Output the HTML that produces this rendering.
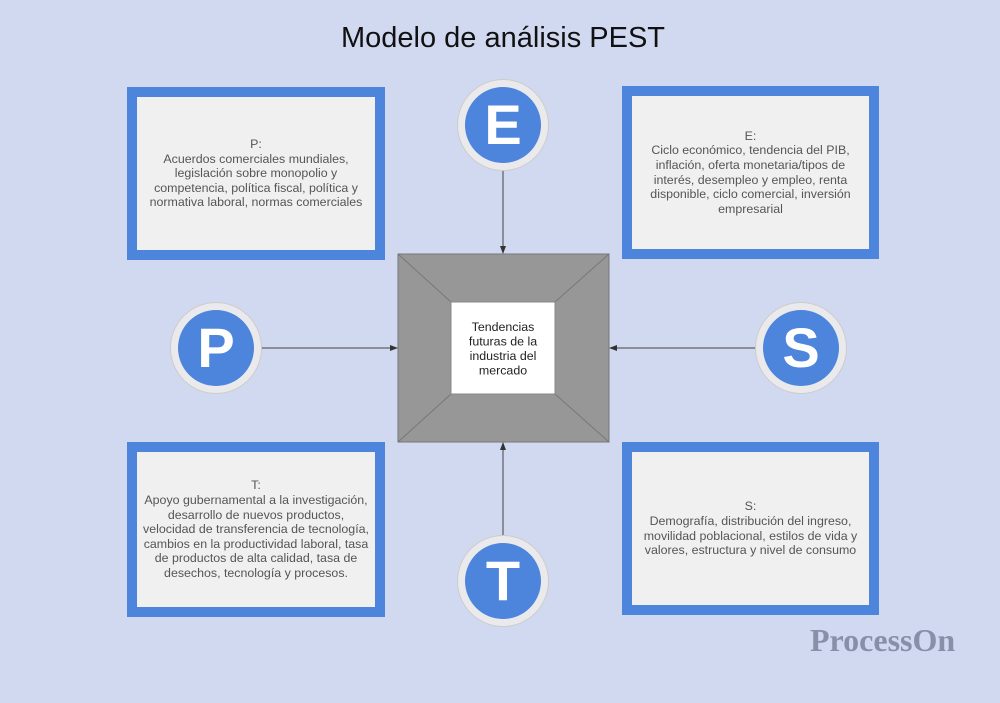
<!DOCTYPE html>
<html><head><meta charset="utf-8"><style>
body{margin:0;width:1000px;height:703px;background:#d1d9f1;position:relative;overflow:hidden;font-family:"Liberation Sans",sans-serif}
.title{position:absolute;left:0;width:1006px;top:22px;text-align:center;font-size:29px;color:#111}
.box{position:absolute;box-sizing:border-box;background:#f0f0f0;border:10px solid #4d84dc;display:flex;align-items:center;justify-content:center;text-align:center;font-size:12.4px;line-height:14.6px;color:#555;padding:0 4px}
.circ{position:absolute;width:90px;height:90px;border-radius:50%;background:#eaeaec;box-shadow:0 0 0 1px #ccc}
.circ div{position:absolute;left:7px;top:7px;width:76px;height:76px;border-radius:50%;background:#4d84dc;color:#fff;font-weight:bold;font-size:56px;line-height:76px;text-align:center}
.wm{position:absolute;left:810px;top:622px;font-family:"Liberation Serif",serif;font-weight:bold;font-size:32px;color:#8790a8}
</style></head><body>
<div class="title">Modelo de análisis PEST</div>
<svg width="1000" height="703" style="position:absolute;left:0;top:0">
<defs><marker id="a" markerWidth="8" markerHeight="8" refX="7" refY="4" orient="auto" markerUnits="userSpaceOnUse"><path d="M0,1 L8,4 L0,7z" fill="#333"/></marker></defs>
<rect x="398" y="254" width="211" height="188" fill="#979797" stroke="#777"/>
<line x1="398" y1="254" x2="451" y2="302" stroke="#777"/>
<line x1="609" y1="254" x2="555" y2="302" stroke="#777"/>
<line x1="398" y1="442" x2="451" y2="394" stroke="#777"/>
<line x1="609" y1="442" x2="555" y2="394" stroke="#777"/>
<rect x="451" y="302" width="104" height="92" fill="#fff" stroke="#888"/>
<text font-family="Liberation Sans" font-size="12.4" fill="#222" text-anchor="middle"><tspan x="503" y="331">Tendencias</tspan><tspan x="503" y="345.5">futuras de la</tspan><tspan x="503" y="360">industria del</tspan><tspan x="503" y="374.5">mercado</tspan></text>
<line x1="503" y1="170" x2="503" y2="253" stroke="#444" marker-end="url(#a)"/>
<line x1="503" y1="535" x2="503" y2="443" stroke="#444" marker-end="url(#a)"/>
<line x1="261" y1="348" x2="397" y2="348" stroke="#444" marker-end="url(#a)"/>
<line x1="756" y1="348" x2="610" y2="348" stroke="#444" marker-end="url(#a)"/>
</svg>
<div class="box" style="left:127px;top:87px;width:258px;height:173px"><div>P:<br>Acuerdos comerciales mundiales,<br>legislación sobre monopolio y<br>competencia, política fiscal, política y<br>normativa laboral, normas comerciales</div></div>
<div class="box" style="left:622px;top:86px;width:257px;height:173px"><div>E:<br>Ciclo económico, tendencia del PIB,<br>inflación, oferta monetaria/tipos de<br>interés, desempleo y empleo, renta<br>disponible, ciclo comercial, inversión<br>empresarial</div></div>
<div class="box" style="left:127px;top:442px;width:258px;height:175px"><div>T:<br>Apoyo gubernamental a la investigación,<br>desarrollo de nuevos productos,<br>velocidad de transferencia de tecnología,<br>cambios en la productividad laboral, tasa<br>de productos de alta calidad, tasa de<br>desechos, tecnología y procesos.</div></div>
<div class="box" style="left:622px;top:442px;width:257px;height:173px"><div>S:<br>Demografía, distribución del ingreso,<br>movilidad poblacional, estilos de vida y<br>valores, estructura y nivel de consumo</div></div>
<div class="circ" style="left:458px;top:80px"><div>E</div></div>
<div class="circ" style="left:171px;top:303px"><div>P</div></div>
<div class="circ" style="left:756px;top:303px"><div>S</div></div>
<div class="circ" style="left:458px;top:536px"><div>T</div></div>
<div class="wm">ProcessOn</div>
</body></html>
